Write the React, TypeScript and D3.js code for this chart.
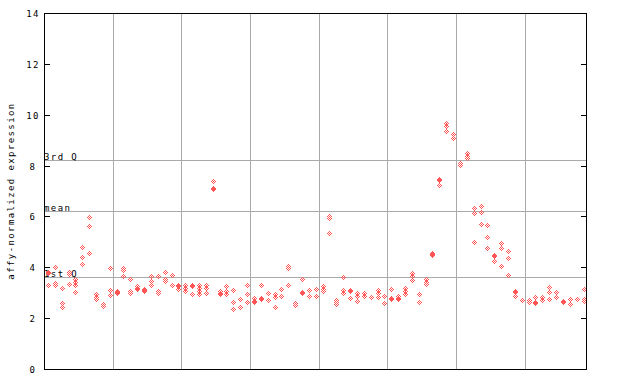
import React from 'react';
import * as d3 from 'd3';

const yTicks = [0, 2, 4, 6, 8, 10, 12, 14];
const quartileLabels = ['3rd Q', 'mean', '1st Q'];
const quartileValues = [8.22, 6.21, 3.62];
const groupSize = 10;

// expression values per sample (replicate points)
const samples: number[][] = [
  [3.8, 3.78, 3.3],
  [4.0, 3.4, 3.32],
  [3.2, 2.6, 2.45],
  [3.8, 3.75, 3.35],
  [3.52, 3.43, 3.32, 3.04],
  [4.81, 4.42, 4.14],
  [5.96, 5.62, 4.57],
  [2.93, 2.84, 2.76],
  [2.57, 2.47],
  [3.98, 3.1, 2.92],
  [3.06, 2.99, 3.02],
  [3.98, 3.89, 3.65],
  [3.55, 3.06, 2.99],
  [3.26, 3.15, 3.18],
  [3.13, 3.06, 3.09],
  [3.65, 3.45, 3.29],
  [3.65, 3.06, 2.99],
  [3.81, 3.55, 3.45],
  [3.68, 3.29],
  [3.32, 3.26, 3.16],
  [3.29, 3.19, 3.06],
  [3.29, 3.27, 2.96],
  [3.32, 3.19, 3.06, 2.96],
  [3.29, 3.19, 2.99],
  [7.41, 7.13, 7.07],
  [3.06, 2.96, 2.98],
  [3.26, 3.06, 2.93],
  [3.1, 2.64, 2.34],
  [2.76, 2.44],
  [3.32, 2.93, 2.64],
  [2.8, 2.63, 2.66],
  [3.31, 2.76, 2.78],
  [2.99, 2.71, 2.73],
  [2.93, 2.84, 2.44],
  [3.13, 2.89],
  [4.04, 3.98, 3.29],
  [2.6, 2.5],
  [3.52, 2.99, 3.01],
  [3.1, 3.12, 2.89],
  [3.13, 2.86, 2.88],
  [3.26, 3.16, 3.06],
  [6.0, 5.92, 5.33],
  [2.73, 2.63, 2.54],
  [3.63, 3.1, 3.0],
  [3.1, 3.08, 2.8],
  [3.0, 2.89, 2.69],
  [2.97, 2.89],
  [2.82, 2.84],
  [3.1, 3.0, 2.84],
  [2.86, 2.88, 2.6],
  [3.15, 2.77, 2.79],
  [2.86, 2.77, 2.79],
  [3.19, 3.06, 2.95],
  [3.76, 3.65, 3.5],
  [2.93, 2.64],
  [3.52, 3.42, 3.33],
  [4.57, 4.5, 4.52],
  [7.46, 7.44, 7.24],
  [9.66, 9.57, 9.37],
  [9.25, 9.23, 9.07],
  [8.1, 8.01],
  [8.49, 8.38, 8.28],
  [6.35, 6.15, 5.0],
  [6.41, 6.19, 5.72],
  [5.68, 5.2, 4.77],
  [4.48, 4.46, 4.24],
  [4.94, 4.77, 4.07],
  [4.66, 4.38, 3.7],
  [3.06, 3.04, 2.89],
  [2.73, 2.71],
  [2.73, 2.64],
  [2.84, 2.63, 2.61],
  [2.84, 2.7, 2.72],
  [3.22, 3.03, 2.76],
  [3.03, 2.84],
  [2.67, 2.65],
  [2.76, 2.56],
  [2.77, 2.75],
  [3.13, 2.76, 2.67],
];

const W = 640;
const H = 384;
const L = 44, R = 587, T = 13, B = 369;

const markerOffsets = [
  [0, -2], [-1, -1], [1, -1], [-2, 0], [0, 0], [2, 0], [-1, 1], [1, 1], [0, 2],
];

function markerPath(cx: number, cy: number) {
  const x0 = Math.round(cx);
  const y0 = Math.round(cy);
  return markerOffsets
    .map(([dx, dy]) => `M${x0 + dx},${y0 + dy}h1v1h-1z`)
    .join('');
}

const fontStyle: React.CSSProperties = {
  fontFamily: '"DejaVu Sans Mono", monospace',
  fontSize: '9px',
  letterSpacing: '1.4px',
};

export default function App() {
  const n = samples.length;
  const x = d3.scaleLinear().domain([0, n]).range([L + 0.5, R]);
  const y = d3.scaleLinear().domain([0, 14]).range([B, T]);
  const py = (v: number) => Math.round(y(v)) + 0.5;
  const groupLines = d3.range(groupSize, n, groupSize);
  const red = '#ff5555';

  return (
    <svg width={W} height={H} style={{ position: 'absolute', left: 0, top: 0 }}>
      <rect width={W} height={H} fill="#fff" />
      {groupLines.map((g) => (
        <line key={'g' + g} x1={Math.floor(x(g)) + 0.5} x2={Math.floor(x(g)) + 0.5} y1={T} y2={B}
          stroke="#aaaaaa" strokeWidth={1} />
      ))}
      {quartileValues.map((v, i) => (
        <g key={'q' + i}>
          <line x1={L} x2={R} y1={py(v)} y2={py(v)} stroke="#aaaaaa" strokeWidth={1} />
          <text x={L} y={py(v) - 1} style={fontStyle} fill="#000">{quartileLabels[i]}</text>
        </g>
      ))}
      <g shapeRendering="crispEdges">
        {samples.map((vals, i) =>
          vals.map((v, j) => (
            <path key={i + '-' + j} d={markerPath(x(i + 0.5), y(v))} fill={red} />
          ))
        )}
      </g>
      <rect x={L + 0.5} y={T + 0.5} width={R - L - 1} height={B - T} fill="none" stroke="#000" strokeWidth={1} />
      {yTicks.map((t) => (
        <g key={'t' + t}>
          <line x1={L} x2={L + 6} y1={py(t)} y2={py(t)} stroke="#000" />
          <line x1={R - 6} x2={R} y1={py(t)} y2={py(t)} stroke="#000" />
          <text x={33} y={py(t) + 3.5} textAnchor="middle" style={fontStyle} fill="#000">{t}</text>
        </g>
      ))}
      <text transform={`translate(14,${(T + B) / 2}) rotate(-90)`} textAnchor="middle" style={fontStyle} fill="#000">
        affy-normalized expression
      </text>
    </svg>
  );
}
